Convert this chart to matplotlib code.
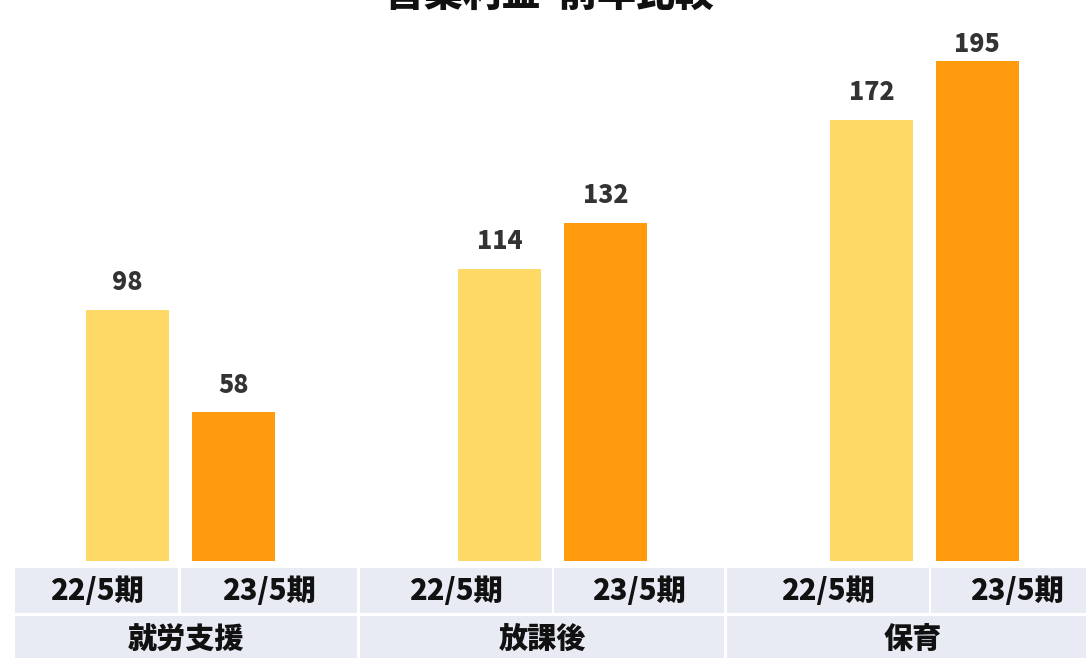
import matplotlib.pyplot as plt
import numpy as np
from matplotlib.patches import Rectangle

plt.rcParams['font.family'] = ['Noto Sans CJK JP', 'DejaVu Sans']

# data
title = '営業利益  前年比較'
categories = ['就労支援', '放課後', '保育']
periods = ['22/5期', '23/5期']
profit_prev = [98, 114, 172]
profit_curr = [58, 132, 195]

colors = ['#FFD966', '#FF9B0C']
cell_color = '#E8EAF4'

W, H = 1086, 658


def px(x, y):
    """pixel (from top-left) -> figure fraction"""
    return x / W, 1 - y / H


def main():
    fig = plt.figure(figsize=(W / 100, H / 100), dpi=100)

    # axes: baseline at y=561px, groups 372px apart
    base_y = 561
    ax = fig.add_axes([0, (H - base_y) / H, 1, base_y / H])
    step = 372.0
    first = 180.5
    ax.set_xlim(-first / step, (W - first) / step)
    ax.set_ylim(0, base_y / (500 / 195))
    ax.axis('off')

    x = np.arange(len(categories))
    width = 83 / step
    off = 105.7 / 2 / step
    for vals, dx, c in [(profit_prev, -off, colors[0]), (profit_curr, off, colors[1])]:
        bars = ax.bar(x + dx, vals, width=width, color=c)
        for b, v in zip(bars, vals):
            # labels above bars, pushed down near the top edge
            ax.text(b.get_x() + b.get_width() / 2, min(v + 10.8, 201.6), str(v),
                    ha='center', va='center', fontsize=18,
                    fontweight='heavy', color='#333333')

    # table under the chart
    row1 = (568, 613)
    row2 = (616, 670)
    sub_cells = [(15, 178), (181, 357), (360, 552), (554, 724), (727, 929), (931, 1100)]
    grp_cells = [(15, 357), (360, 724), (727, 1100)]

    def cell(x0, x1, y0, y1, text, ty, tx=None):
        fx0, fy1 = px(x0, y1)
        fig.patches.append(Rectangle((fx0, fy1), (x1 - x0) / W, (y1 - y0) / H,
                                     transform=fig.transFigure, facecolor=cell_color,
                                     edgecolor='none', zorder=0))
        if tx is None:
            tx = (x0 + x1) / 2
        fx, fy = px(tx, ty)
        fig.text(fx, fy, text, ha='center', va='center', fontsize=21,
                 fontweight='heavy', color='#111111')

    for i, (x0, x1) in enumerate(sub_cells):
        cell(x0, x1, row1[0], row1[1], periods[i % 2], 591,
             tx=1017 if i == len(sub_cells) - 1 else None)
    for (x0, x1), cat in zip(grp_cells, categories):
        cell(x0, x1, row2[0], row2[1], cat, 640,
             tx=913 if x1 > W else None)

    fig.text(549 / W, 1 + 6 / H, title, ha='center', va='center',
             fontsize=28, fontweight='heavy', color='#111111')

    fig.savefig('out.png', dpi=100)


if __name__ == "__main__":
    main()
